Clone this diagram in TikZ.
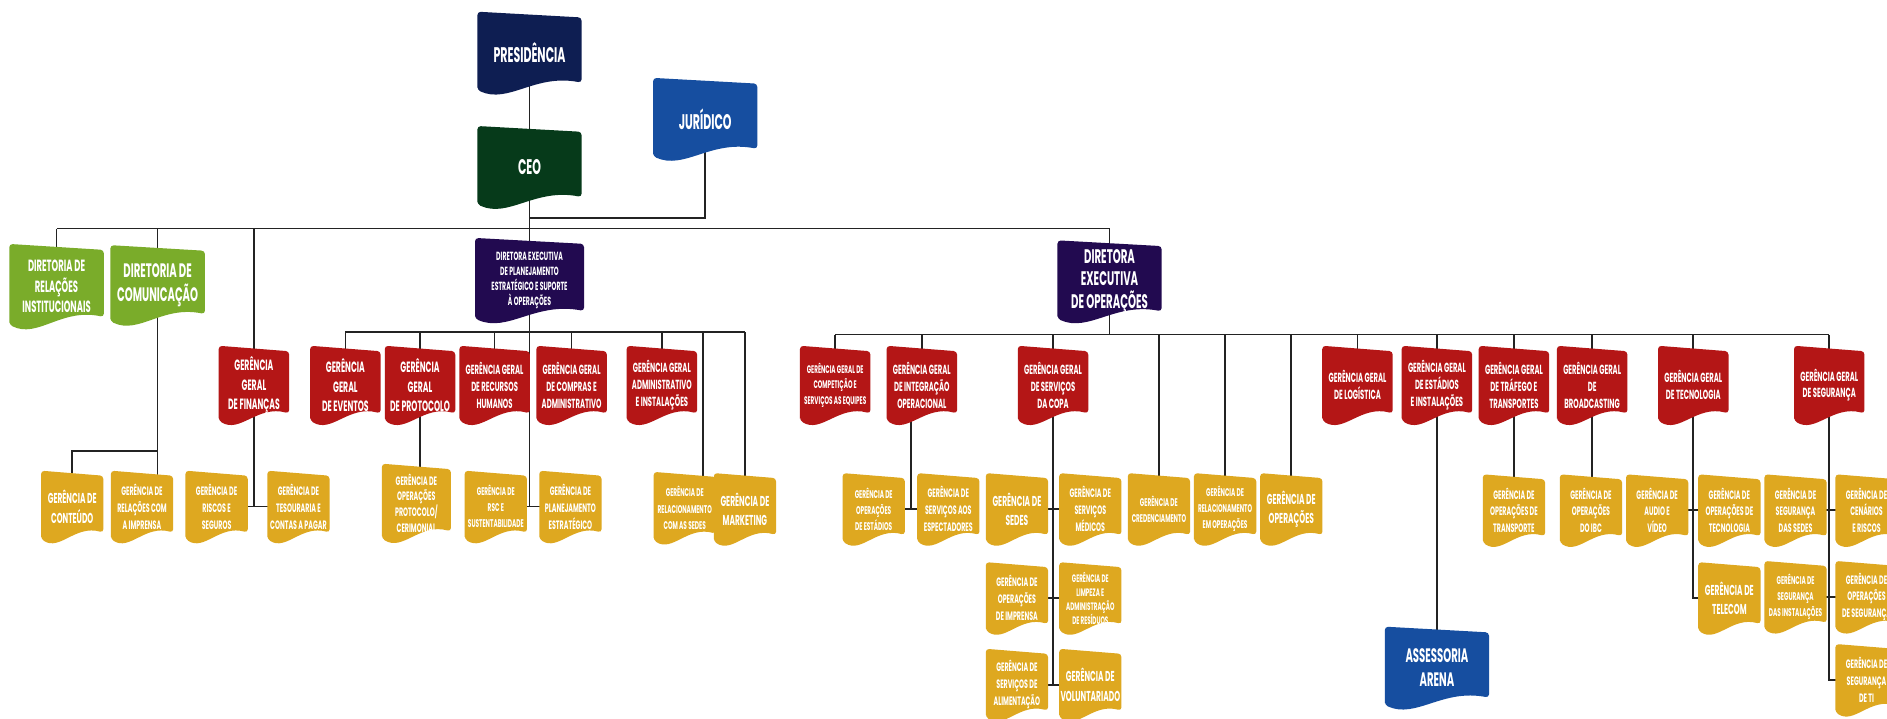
\documentclass[tikz,border=0pt]{standalone}
\usepackage{fontspec}
\setmainfont{Poppins}[FakeStretch=0.52]
\definecolor{presnavy}{RGB}{14, 30, 82}
\definecolor{ceogreen}{RGB}{6, 58, 26}
\definecolor{jurblue}{RGB}{22, 78, 160}
\definecolor{dirgreen}{RGB}{122, 172, 42}
\definecolor{execindigo}{RGB}{34, 10, 80}
\definecolor{gerred}{RGB}{180, 22, 22}
\definecolor{geryellow}{RGB}{222, 168, 32}
\definecolor{linegray}{RGB}{35, 35, 35}
\usetikzlibrary{calc, backgrounds}
\newcommand\fs[2]{\fontsize{#1}{#2}\selectfont\bfseries}
\newcommand\flag[2]{%
    \fill[#2, rounded corners=2pt] let \p1=(#1.south west), \p2=(#1.north east),
        \n1={\x2-\x1}, \n2={\y2-\y1} in
        (\x1, \y1+0.05*\n2) -- (\x1, \y2) -- (\x2, \y2-0.07*\n2) -- (\x2, \y1+0.14*\n2)
        .. controls (\x1+0.55*\n1, \y1+0.25*\n2) and (\x1+0.3*\n1, \y1-0.12*\n2) .. cycle;
}
\tikzset{
    box/.style={text=white, align=center, inner sep=0pt},
    topbox/.style={box, minimum width=2.15cm, minimum height=1.7cm, font=\fs{12.5}{14.5}},
    dirbox/.style={box, minimum width=1.95cm, minimum height=1.75cm, font=\fs{9.6}{12}},
    redbox/.style={box, minimum width=1.45cm, minimum height=1.62cm, font=\fs{7.8}{10}},
    yelbox/.style={box, minimum width=1.28cm, minimum height=1.48cm, font=\fs{7.2}{10}},
    link/.style={draw=linegray, line width=1pt},
}

\begin{document}
\begin{tikzpicture}[x=0.025cm, y=-0.025cm]
    \useasboundingbox (0, 0) rectangle (1568, 597);
    \node[topbox] (pres) at (440, 44) {PRESIDÊNCIA};
    \node[topbox] (ceo) at (440, 139) {CEO};
    \node[topbox] (jur) at (586, 99) {JURÍDICO};
    \node[topbox, font=\fs{11.5}{14}] (arena) at (1194, 555) {ASSESSORIA\\ARENA};

    \node[dirbox] (dri) at (47, 238) {DIRETORIA DE\\RELAÇÕES\\INSTITUCIONAIS};
    \node[dirbox, font=\fs{11.5}{14}, minimum height=1.65cm] (dcom) at (131, 237)
        {DIRETORIA DE\\COMUNICAÇÃO};
    \node[dirbox, minimum width=2.25cm, font=\fs{7}{9}] (dplan) at (440, 233)
        {DIRETORA EXECUTIVA\\DE PLANEJAMENTO\\ESTRATÉGICO E SUPORTE\\À OPERAÇÕES};
    \node[topbox, font=\fs{11.6}{13.5}] (dops) at (922, 234) {DIRETORA\\EXECUTIVA\\DE OPERAÇÕES};

    \node[redbox, font=\fs{8.8}{11.5}] (gfin) at (211, 320) {GERÊNCIA\\GERAL\\DE FINANÇAS};
    \node[redbox, font=\fs{8.8}{11.5}] (gev) at (287, 320) {GERÊNCIA\\GERAL\\DE EVENTOS};
    \node[redbox, font=\fs{8.8}{11.5}] (gprot) at (349, 320) {GERÊNCIA\\GERAL\\DE PROTOCOLO};
    \node[redbox] (grh) at (411, 320) {GERÊNCIA GERAL\\DE RECURSOS\\HUMANOS};
    \node[redbox] (gcomp) at (475, 320) {GERÊNCIA GERAL\\DE COMPRAS E\\ADMINISTRATIVO};
    \node[redbox] (gadm) at (550, 320) {GERÊNCIA GERAL\\ADMINISTRATIVO\\E INSTALAÇÕES};
    \node[redbox, font=\fs{6.5}{9}] (gcompet) at (694, 320)
        {GERÊNCIA GERAL DE\\COMPETIÇÃO E\\SERVIÇOS AS EQUIPES};
    \node[redbox] (ginteg) at (766, 320) {GERÊNCIA GERAL\\DE INTEGRAÇÃO\\OPERACIONAL};
    \node[redbox] (gcopa) at (875, 320) {GERÊNCIA GERAL\\DE SERVIÇOS\\DA COPA};
    \node[redbox] (glog) at (1128, 320) {GERÊNCIA GERAL\\DE LOGÍSTICA};
    \node[redbox] (gest) at (1194, 320) {GERÊNCIA GERAL\\DE ESTÁDIOS\\E INSTALAÇÕES};
    \node[redbox] (gtraf) at (1258, 320) {GERÊNCIA GERAL\\DE TRÁFEGO E\\TRANSPORTES};
    \node[redbox] (gbroad) at (1323, 320) {GERÊNCIA GERAL\\DE\\BROADCASTING};
    \node[redbox] (gtec) at (1407, 320) {GERÊNCIA GERAL\\DE TECNOLOGIA};
    \node[redbox] (gseg) at (1520, 320) {GERÊNCIA GERAL\\DE SEGURANÇA};

    \node[yelbox, font=\fs{8.5}{11.5}] (gcont) at (60, 421) {GERÊNCIA DE\\CONTEÚDO};
    \node[yelbox] (gimp) at (118, 421) {GERÊNCIA DE\\RELAÇÕES COM\\A IMPRENSA};
    \node[yelbox] (grisc) at (180, 421) {GERÊNCIA DE\\RISCOS E\\SEGUROS};
    \node[yelbox] (gtes) at (248, 421) {GERÊNCIA DE\\TESOURARIA E\\CONTAS A PAGAR};
    \node[yelbox, font=\fs{7.2}{9.2}, minimum width=1.42cm, minimum height=1.62cm] (gopprot)
        at (346, 418) {GERÊNCIA DE\\OPERAÇÕES\\PROTOCOLO/\\CERIMONIAL};
    \node[yelbox, font=\fs{6.6}{9.5}] (grsc) at (412, 421) {GERÊNCIA DE\\RSC E\\SUSTENTABILIDADE};
    \node[yelbox] (gplan) at (474, 421) {GERÊNCIA DE\\PLANEJAMENTO\\ESTRATÉGICO};
    \node[yelbox, font=\fs{6.6}{9.5}] (grelsed) at (569, 422) {GERÊNCIA DE\\RELACIONAMENTO\\COM AS SEDES};
    \node[yelbox, font=\fs{8.5}{11.5}] (gmkt) at (619, 423) {GERÊNCIA DE\\MARKETING};
    \node[yelbox, font=\fs{6.6}{9.5}] (gopest) at (726, 423) {GERÊNCIA DE\\OPERAÇÕES\\DE ESTÁDIOS};
    \node[yelbox] (gesp) at (788, 423) {GERÊNCIA DE\\SERVIÇOS AOS\\ESPECTADORES};
    \node[yelbox, font=\fs{8.5}{11.5}] (gsedes) at (845, 423) {GERÊNCIA DE\\SEDES};
    \node[yelbox] (gmed) at (906, 423) {GERÊNCIA DE\\SERVIÇOS\\MÉDICOS};
    \node[yelbox, font=\fs{6.6}{9.5}] (gcred) at (963, 423) {GERÊNCIA DE\\CREDENCIAMENTO};
    \node[yelbox, font=\fs{6.6}{9.5}] (grelop) at (1018, 423) {GERÊNCIA DE\\RELACIONAMENTO\\EM OPERAÇÕES};
    \node[yelbox, font=\fs{8.5}{11.5}] (gop) at (1073, 423) {GERÊNCIA DE\\OPERAÇÕES};
    \node[yelbox] (gpimp) at (845, 497) {GERÊNCIA DE\\OPERAÇÕES\\DE IMPRENSA};
    \node[yelbox, font=\fs{6.4}{8.3}] (glimp) at (906, 497)
        {GERÊNCIA DE\\LIMPEZA E\\ADMINISTRAÇÃO\\DE RESÍDUOS};
    \node[yelbox] (galim) at (845, 569) {GERÊNCIA DE\\SERVIÇOS DE\\ALIMENTAÇÃO};
    \node[yelbox, font=\fs{8.5}{11.5}] (gvol) at (906, 569) {GERÊNCIA DE\\VOLUNTARIADO};
    \node[yelbox] (gtransp) at (1258, 424) {GERÊNCIA DE\\OPERAÇÕES DE\\TRANSPORTE};
    \node[yelbox] (gibc) at (1322, 424) {GERÊNCIA DE\\OPERAÇÕES\\DO IBC};
    \node[yelbox] (gaudio) at (1377, 424) {GERÊNCIA DE\\AUDIO E\\VÍDEO};
    \node[yelbox] (goptec) at (1437, 424) {GERÊNCIA DE\\OPERAÇÕES DE\\TECNOLOGIA};
    \node[yelbox, font=\fs{8.5}{11.5}] (gtel) at (1437, 497) {GERÊNCIA DE\\TELECOM};
    \node[yelbox] (gsegsed) at (1492, 424) {GERÊNCIA DE\\SEGURANÇA\\DAS SEDES};
    \node[yelbox] (gcen) at (1551, 424) {GERÊNCIA DE\\CENÁRIOS\\E RISCOS};
    \node[yelbox, font=\fs{6.6}{9.5}] (gseginst) at (1492, 496) {GERÊNCIA DE\\SEGURANÇA\\DAS INSTALAÇÕES};
    \node[yelbox] (gopseg) at (1551, 496) {GERÊNCIA DE\\OPERAÇÕES\\DE SEGURANÇA};
    \node[yelbox] (gsegti) at (1551, 565) {GERÊNCIA DE\\SEGURANÇA\\DE TI};

    \begin{pgfonlayer}{background}
        \fill[white] (0, 0) rectangle (1568, 597);
        \coordinate (mainbus) at (0, 190);
        \coordinate (jurbus) at (0, 181);
        \coordinate (planbus) at (0, 276);
        \coordinate (opsbus) at (0, 278);
        \coordinate (comj) at (0, 375);
        \coordinate (rs) at ([xshift=0.375cm]grelsed.center);
        \coordinate (intj) at ($(gopest.center)!0.5!(gesp.center)$);

        \draw[link] (pres.center) -- (dplan.center);
        \draw[link] (jur.center) |- (ceo.center |- jurbus);
        \draw[link] (dri.center |- mainbus) -- (dops.center |- mainbus);
        \foreach \nd in {dri, dcom, gfin, dops}
            \draw[link] (\nd.center) -- (\nd.center |- mainbus);
        \draw[link] (dcom.center) -- (dcom.center |- gimp.center);
        \draw[link] (dcom.center |- comj) -| (gcont.center);
        \draw[link] (gfin.center) -- (gfin.center |- grisc.center);
        \draw[link] (grisc.center) -- (gtes.center);

        \draw[link] (gev.center |- planbus) -- (gmkt.center |- planbus);
        \foreach \nd in {gev, gprot, grh, gcomp, gadm, gmkt}
            \draw[link] (\nd.center) -- (\nd.center |- planbus);
        \draw[link] (rs) -- (rs |- planbus);
        \draw[link] (gprot.center) -- (gprot.center |- gopprot.center);
        \draw[link] (dplan.center) -- (dplan.center |- grsc.center);
        \draw[link] (grsc.center) -- (gplan.center);

        \draw[link] (dops.center) -- (dops.center |- opsbus);
        \draw[link] (gcompet.center |- opsbus) -- (gseg.center |- opsbus);
        \foreach \nd in {gcompet, ginteg, gcopa, gcred, grelop, gop, glog, gest,
                gtraf, gbroad, gtec, gseg}
            \draw[link] (\nd.center) -- (\nd.center |- opsbus);
        \draw[link] (intj) -- (intj |- ginteg.center);
        \draw[link] (gopest.center) -- (gesp.center);
        \draw[link] (gcopa.center) -- (gcopa.center |- galim.center);
        \draw[link] (gsedes.center) -- (gmed.center);
        \draw[link] (gpimp.center) -- (glimp.center);
        \draw[link] (galim.center) -- (gvol.center);
        \draw[link] (gest.center) -- (arena.center);
        \draw[link] (gtraf.center) -- (gtraf.center |- gtransp.center);
        \draw[link] (gbroad.center) -- (gbroad.center |- gibc.center);
        \draw[link] (gtec.center) |- (gtel.center);
        \draw[link] (gaudio.center) -- (goptec.center);
        \draw[link] (gseg.center) |- (gsegti.center);
        \draw[link] (gsegsed.center) -- (gcen.center);
        \draw[link] (gseginst.center) -- (gopseg.center);

        \foreach \nd/\cl in {pres/presnavy, ceo/ceogreen, jur/jurblue, arena/jurblue,
                dri/dirgreen, dcom/dirgreen, dplan/execindigo, dops/execindigo}
            {\flag{\nd}{\cl}}
        \foreach \nd in {gfin, gev, gprot, grh, gcomp, gadm, gcompet, ginteg, gcopa,
                glog, gest, gtraf, gbroad, gtec, gseg}
            {\flag{\nd}{gerred}}
        \foreach \nd in {gcont, gimp, grisc, gtes, gopprot, grsc, gplan, grelsed, gmkt,
                gopest, gesp, gsedes, gmed, gcred, grelop, gop, gpimp, glimp, galim,
                gvol, gtransp, gibc, gaudio, goptec, gtel, gsegsed, gcen, gseginst,
                gopseg, gsegti}
            {\flag{\nd}{geryellow}}
    \end{pgfonlayer}
\end{tikzpicture}
\end{document}
